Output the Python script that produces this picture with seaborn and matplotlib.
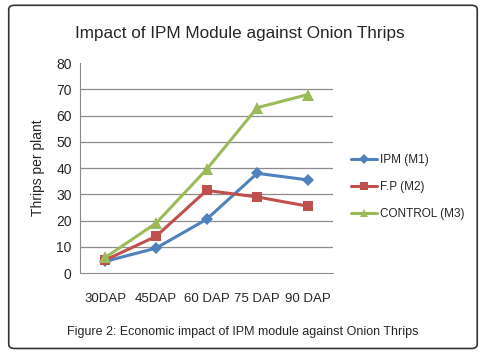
import pandas as pd
import seaborn as sns
import matplotlib.pyplot as plt
from matplotlib.patches import FancyBboxPatch

# data
stages = ['30DAP', '45DAP', '60 DAP', '75 DAP', '90 DAP']
ipm = [4.5, 9.5, 20.5, 38.0, 35.5]
fp = [5.0, 14.0, 31.5, 29.0, 25.5]
control = [6.0, 19.0, 39.5, 63.0, 68.0]
series_names = ['IPM (M1)', 'F.P (M2)', 'CONTROL (M3)']

df = pd.DataFrame({
    'stage': stages * 3,
    'thrips': ipm + fp + control,
    'series': [n for n in series_names for _ in stages],
})

sns.set_style('white')
plt.rcParams['font.family'] = ['Liberation Sans', 'DejaVu Sans']

fig = plt.figure(figsize=(4.85, 3.52), dpi=100)
ax = fig.add_axes([0.165, 0.224, 0.522, 0.597])

colors = {'IPM (M1)': '#4F81BD', 'F.P (M2)': '#C0504D', 'CONTROL (M3)': '#9BBB59'}
markers = {'IPM (M1)': 'D', 'F.P (M2)': 's', 'CONTROL (M3)': '^'}
msizes = {'IPM (M1)': 6, 'F.P (M2)': 7.5, 'CONTROL (M3)': 8.5}

sns.lineplot(data=df, x='stage', y='thrips', hue='series', style='series',
             palette=colors, markers=markers, dashes=False, linewidth=2.2,
             markeredgewidth=0, ax=ax)
for line, name in zip(ax.lines, series_names):
    line.set_markersize(msizes[name])

ax.set_xlim(-0.5, 4.5)
ax.set_ylim(0, 80)
ax.set_yticks(range(0, 81, 10))
for y in range(10, 80, 10):
    ax.axhline(y, color='#8c8c8c', linewidth=0.9, zorder=0)
for s in ['top', 'right']:
    ax.spines[s].set_visible(False)
ax.spines['left'].set_color('#8c8c8c')
ax.spines['bottom'].set_color('#8c8c8c')
ax.tick_params(axis='both', labelsize=10, length=0, pad=6)
ax.tick_params(axis='x', pad=14, labelsize=9.5)
ax.set_xlabel('')
ax.set_ylabel('Thrips per plant', fontsize=10, labelpad=8)

h, l = ax.get_legend_handles_labels()
for hh in h:
    hh.set_markersize(5.5)
ax.legend(h, l, loc='center left', bbox_to_anchor=(1.03, 0.41), frameon=False,
          fontsize=8.5, handlelength=2.2, labelspacing=1.3, handletextpad=0.2)

fig.text(0.495, 0.905, 'Impact of IPM Module against Onion Thrips', ha='center', va='center',
         fontsize=12.3)
fig.text(0.50, 0.057, 'Figure 2: Economic impact of IPM module against Onion Thrips',
         ha='center', va='center', fontsize=9)

border = FancyBboxPatch((0.018, 0.01), 0.966, 0.975, boxstyle='round,pad=0,rounding_size=0.012',
                        transform=fig.transFigure, fill=False, edgecolor='#333333', linewidth=1.2)
fig.patches.append(border)

fig.savefig('out.png', dpi=100)
